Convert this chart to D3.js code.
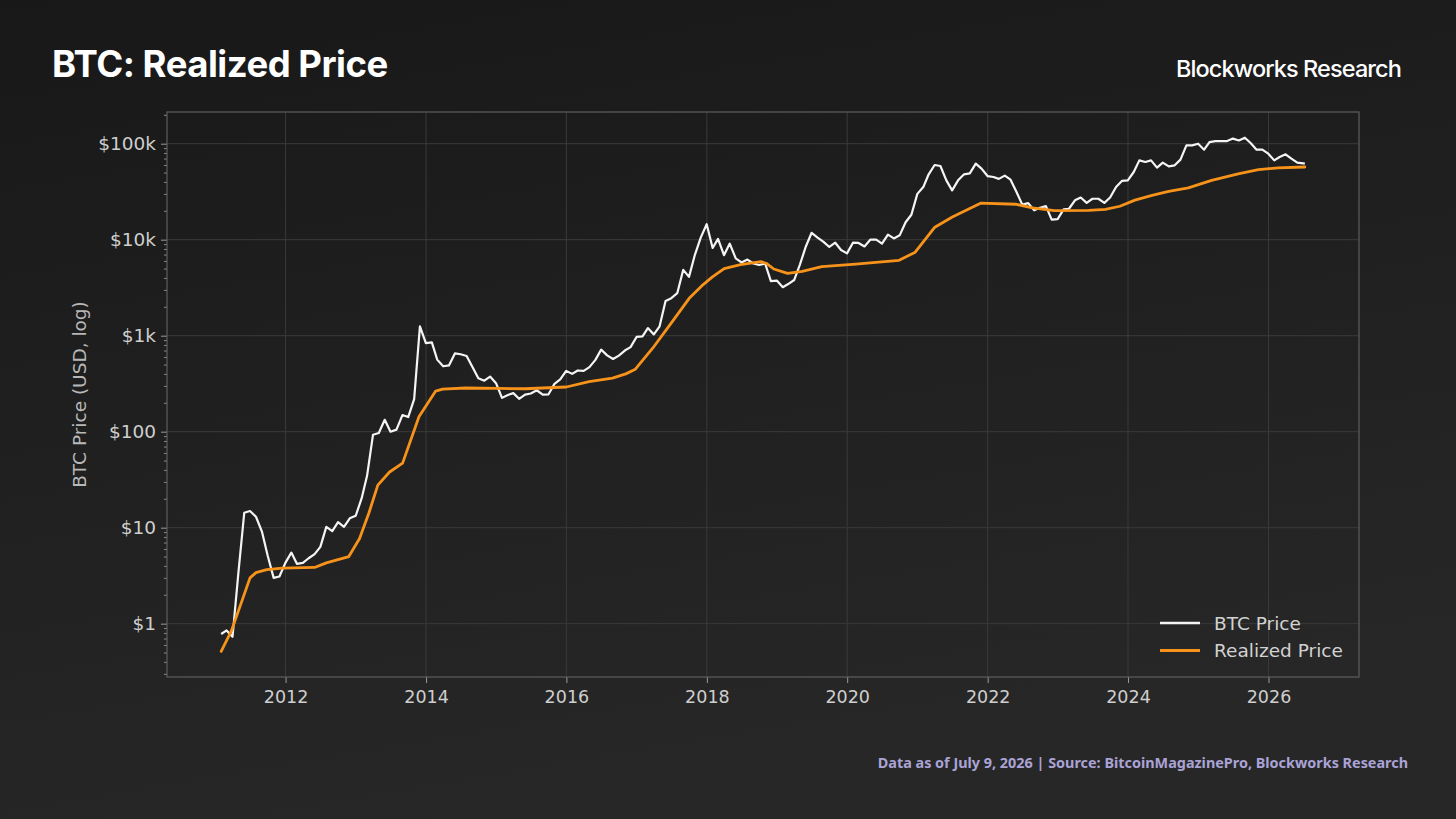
<!DOCTYPE html>
<html>
<head>
<meta charset="utf-8">
<script src="https://cdn.jsdelivr.net/npm/d3@7"></script>
<style>
    html, body { margin: 0; padding: 0; background: #1c1c1c; overflow: hidden; }
    svg { display: block; }
</style>
</head>
<body>
<div class="chart"></div>
<script>
// BTC price, one value per month end from Jan 2011, last value is the Jul 9, 2026 print
const btcFirstMonth = "2011-01";
const btcLastDate = "2026-07-09";
const btcPrice = [
    0.78, 0.85, 0.73, 3.3, 14.3, 14.9, 13.0, 9.1, 5.1, 3.0, 3.1, 4.3,                       // 2011
    5.5, 4.2, 4.3, 4.8, 5.3, 6.3, 10.2, 9.2, 11.4, 10.2, 12.5, 13.3,                        // 2012
    20.3, 34.7, 93, 97, 133, 100, 105, 149, 142, 218, 1250, 838,                            // 2013
    850, 563, 480, 490, 653, 640, 615, 470, 360, 340, 375, 320,                             // 2014
    225, 240, 252, 220, 243, 250, 270, 243, 245, 315, 350, 430,                             // 2015
    400, 434, 430, 470, 560, 715, 623, 572, 620, 700, 760, 970,                             // 2016
    985, 1200, 1030, 1250, 2300, 2460, 2770, 4850, 4100, 7000, 10500, 14500,                // 2017
    8200, 10200, 6900, 9100, 6400, 5800, 6200, 5650, 5450, 5650, 3700, 3750,                // 2018
    3200, 3450, 3800, 5500, 8500, 11800, 10500, 9500, 8400, 9300, 7800, 7200,               // 2019
    9300, 9250, 8500, 10000, 10000, 9100, 11300, 10300, 11100, 15200, 18200, 30000,         // 2020
    35300, 48000, 60000, 58500, 41500, 32600, 41500, 48000, 49000, 62000, 55000, 46000,     // 2021
    45000, 43000, 46500, 42200, 31400, 23200, 24000, 20200, 21500, 22400, 16200, 16400,     // 2022
    20700, 21000, 25700, 27500, 24200, 26700, 26700, 24200, 27500, 35400, 40900, 41500,     // 2023
    50700, 67000, 64500, 67000, 56300, 63500, 58000, 59500, 68200, 96000, 96000, 100000,    // 2024
    86600, 104000, 106500, 106500, 106500, 113000, 108000, 115500, 101500, 86600, 86600, 78700, // 2025
    67000, 72600, 77400, 69800, 63400, 62500, 61900                                         // 2026
];

// realized price, read at the bends of the orange line
const realizedDates = [
    "2011-01-31", "2011-03-25", "2011-06-30", "2011-07-31", "2011-09-25", "2011-12-15",
    "2012-05-31", "2012-07-31", "2012-11-25", "2013-01-20", "2013-03-10", "2013-04-25",
    "2013-06-25", "2013-09-01", "2013-11-25", "2014-02-20", "2014-03-28", "2014-07-25",
    "2015-01-15", "2015-06-01", "2016-01-01", "2016-04-28", "2016-08-28", "2016-11-05",
    "2016-12-25", "2017-03-25", "2017-07-05", "2017-10-01", "2017-12-05", "2018-01-30",
    "2018-04-01", "2018-06-25", "2018-10-10", "2018-11-07", "2018-12-15", "2019-02-25",
    "2019-05-12", "2019-08-22", "2020-02-14", "2020-09-27", "2020-12-20", "2021-04-01",
    "2021-07-01", "2021-11-25", "2022-05-27", "2022-08-22", "2022-12-14", "2023-06-10",
    "2023-09-05", "2023-11-20", "2024-02-06", "2024-05-05", "2024-07-31", "2024-11-10",
    "2025-03-11", "2025-07-27", "2025-11-10", "2026-02-20", "2026-07-09"
];
const realizedPrice = [
    0.515, 0.84, 3.0, 3.4, 3.65, 3.78,
    3.85, 4.3, 5.0, 7.7, 14.3, 27.7,
    38, 47, 143, 265, 277, 285,
    282, 280, 292, 333, 361, 400,
    448, 740, 1400, 2450, 3300, 4100,
    5000, 5500, 5900, 5650, 4950, 4450,
    4670, 5250, 5550, 6100, 7400, 13500,
    17200, 24000, 23400, 21500, 20100, 20200,
    20700, 22300, 25800, 29000, 31800, 34600,
    41400, 48600, 53700, 55900, 57200
];

const seriesNames = ["BTC Price", "Realized Price"];
const yTickValues = [1, 10, 100, 1000, 10000, 100000];
const yTickLabels = ["$1", "$10", "$100", "$1k", "$10k", "$100k"];
const xTickYears = [2012, 2014, 2016, 2018, 2020, 2022, 2024, 2026];

const titleText = "BTC: Realized Price";
const brandText = "Blockworks Research";
const yLabelText = "BTC Price (USD, log)";
const footerText = "Data as of July 9, 2026 | Source: BitcoinMagazinePro, Blockworks Research";

let parseDay = d3.utcParse("%Y-%m-%d");
let parseMonth = d3.utcParse("%Y-%m");

// month end dates for the btc series, the last one is the "as of" date
let firstMonth = parseMonth(btcFirstMonth);
let btcData = btcPrice.map((v, i) => {
    let date = (i == btcPrice.length - 1)
        ? parseDay(btcLastDate)
        : d3.utcDay.offset(d3.utcMonth.offset(firstMonth, i + 1), -1);
    return {date: date, value: v};
});
let realizedData = realizedDates.map((d, i) => {
    return {date: parseDay(d), value: realizedPrice[i]};
});

let W = 1456, H = 819;
let margin = {top: 112, right: 97, bottom: 142, left: 167},
    width = W - margin.left - margin.right,
    height = H - margin.top - margin.bottom;

let axisFont = "'DejaVu Sans', sans-serif";

let svg = d3.select(".chart")
    .append("svg")
    .attr("width", W)
    .attr("height", H);

// background
let defs = svg.append("defs");
let grad = defs.append("linearGradient")
    .attr("id", "bg")
    .attr("x1", "0%").attr("y1", "0%")
    .attr("x2", "30%").attr("y2", "100%");
grad.append("stop").attr("offset", "0%").attr("stop-color", "#181818");
grad.append("stop").attr("offset", "100%").attr("stop-color", "#272727");
svg.append("rect")
    .attr("width", W)
    .attr("height", H)
    .attr("fill", "url(#bg)");

defs.append("clipPath")
    .attr("id", "plot-clip")
    .append("rect")
    .attr("width", width)
    .attr("height", height);

let g = svg.append("g")
    .attr("transform", "translate(" + margin.left + "," + margin.top + ")");

// scales, padded 5% each side like the source chart
let allData = btcData.concat(realizedData);
let t0 = d3.min(allData, d => d.date), t1 = d3.max(allData, d => d.date);
let tPad = (t1 - t0) * 0.05;
let x = d3.scaleUtc()
    .domain([new Date(+t0 - tPad), new Date(+t1 + tPad)])
    .range([0, width]);

let lo = Math.log10(d3.min(allData, d => d.value)),
    hi = Math.log10(d3.max(allData, d => d.value));
let lPad = (hi - lo) * 0.05;
let y = d3.scaleLog()
    .domain([Math.pow(10, lo - lPad), Math.pow(10, hi + lPad)])
    .range([height, 0]);

let yearDates = xTickYears.map(yr => new Date(Date.UTC(yr, 0, 1)));

// grid
g.append("g")
    .selectAll("line")
    .data(yearDates)
    .enter()
    .append("line")
    .attr("x1", d => x(d)).attr("x2", d => x(d))
    .attr("y1", 0).attr("y2", height)
    .attr("stroke", "#3a3a3a")
    .attr("stroke-width", 1);

g.append("g")
    .selectAll("line")
    .data(yTickValues)
    .enter()
    .append("line")
    .attr("x1", 0).attr("x2", width)
    .attr("y1", d => y(d)).attr("y2", d => y(d))
    .attr("stroke", "#3a3a3a")
    .attr("stroke-width", 1);

// x axis
let xAxis = g.append("g")
    .attr("transform", "translate(0," + height + ")")
    .call(d3.axisBottom(x)
        .tickValues(yearDates)
        .tickFormat(d3.utcFormat("%Y"))
        .tickSize(6)
        .tickPadding(8));
xAxis.select(".domain").remove();
xAxis.selectAll("line").attr("stroke", "#9a9a9a");
xAxis.selectAll("text")
    .attr("fill", "#cfcfcf")
    .style("font-family", axisFont)
    .style("font-size", "17.5px");

// y axis, minor ticks first
let minorTicks = y.ticks().filter(v => yTickValues.indexOf(v) < 0);
let yMinor = g.append("g")
    .call(d3.axisLeft(y).tickValues(minorTicks).tickFormat("").tickSize(3));
yMinor.select(".domain").remove();
yMinor.selectAll("line").attr("stroke", "#8a8a8a");

let yAxis = g.append("g")
    .call(d3.axisLeft(y)
        .tickValues(yTickValues)
        .tickFormat((d, i) => yTickLabels[i])
        .tickSize(6)
        .tickPadding(5));
yAxis.select(".domain").remove();
yAxis.selectAll("line").attr("stroke", "#9a9a9a");
yAxis.selectAll("text")
    .attr("fill", "#cfcfcf")
    .style("font-family", axisFont)
    .style("font-size", "18.5px");

// frame
g.append("rect")
    .attr("width", width)
    .attr("height", height)
    .attr("fill", "none")
    .attr("stroke", "#5e5e5e")
    .attr("stroke-width", 1.2);

// lines
let line = d3.line()
    .x(d => x(d.date))
    .y(d => y(d.value));

let plot = g.append("g").attr("clip-path", "url(#plot-clip)");
plot.append("path")
    .datum(btcData)
    .attr("d", line)
    .attr("fill", "none")
    .attr("stroke", "#f5f5f5")
    .attr("stroke-width", 2.2)
    .attr("stroke-linejoin", "round");
plot.append("path")
    .datum(realizedData)
    .attr("d", line)
    .attr("fill", "none")
    .attr("stroke", "#f7931a")
    .attr("stroke-width", 2.8)
    .attr("stroke-linejoin", "round")
    .attr("stroke-linecap", "round");

// legend
let legendColors = ["#f5f5f5", "#f7931a"];
let legendWidths = [2.2, 2.8];
let legend = g.append("g")
    .attr("transform", "translate(" + (width - 199) + "," + (height - 54) + ")");
let items = legend.selectAll("g")
    .data(seriesNames)
    .enter()
    .append("g")
    .attr("transform", (d, i) => "translate(0," + (i * 27.5) + ")");
items.append("line")
    .attr("x1", 0).attr("x2", 40)
    .attr("stroke", (d, i) => legendColors[i])
    .attr("stroke-width", (d, i) => legendWidths[i] + 0.4);
items.append("text")
    .attr("x", 54)
    .attr("y", 6.5)
    .attr("fill", "#d2d2d2")
    .style("font-family", axisFont)
    .style("font-size", "18.5px")
    .text(d => d);

// y label
svg.append("text")
    .attr("transform", "translate(86," + (margin.top + height / 2) + ")rotate(-90)")
    .attr("text-anchor", "middle")
    .attr("fill", "#b8b8b8")
    .style("font-family", axisFont)
    .style("font-size", "18.5px")
    .text(yLabelText);

// title and brand
svg.append("text")
    .attr("x", 52)
    .attr("y", 77)
    .attr("fill", "#ffffff")
    .style("font-family", "Inter, sans-serif")
    .style("font-weight", "700")
    .style("font-size", "36.5px")
    .style("letter-spacing", "-0.5px")
    .text(titleText);

svg.append("text")
    .attr("x", 1401)
    .attr("y", 77)
    .attr("text-anchor", "end")
    .attr("fill", "#ffffff")
    .style("font-family", "Inter, sans-serif")
    .style("font-weight", "500")
    .style("font-size", "23.5px")
    .style("letter-spacing", "-0.9px")
    .text(brandText);

// footer
svg.append("text")
    .attr("x", 1408)
    .attr("y", 768)
    .attr("text-anchor", "end")
    .attr("fill", "#aaa3d6")
    .style("font-family", "'Noto Sans', sans-serif")
    .style("font-weight", "700")
    .style("font-size", "14.4px")
    .text(footerText);
</script>
</body>
</html>
